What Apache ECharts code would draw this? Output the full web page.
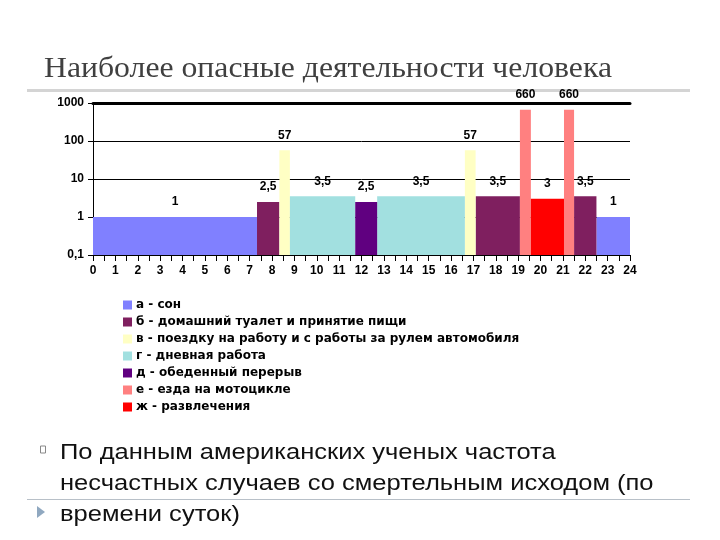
<!DOCTYPE html>
<html>
<head>
<meta charset="utf-8">
<script src="https://cdn.jsdelivr.net/npm/echarts@6/dist/echarts.min.js"></script>
<style>html,body{margin:0;padding:0;background:#fff}#c{width:720px;height:540px}</style>
</head>
<body>
<div id="c"></div>
<script>
// Activity categories (legend)
var categories = [
  'а - сон',
  'б - домашний туалет и принятие пищи',
  'в - поездку на работу и с работы за рулем автомобиля',
  'г - дневная работа',
  'д - обеденный перерыв',
  'е - езда на мотоцикле',
  'ж - развлечения'
];
var categoryColors = ['#8080FF', '#7F1F5F', '#FFFFC4', '#A2E0E0', '#600080', '#FF8080', '#FF0000'];

// Time segments (hours of day)
var segStart = [0, 7.33, 8.33, 8.8, 11.72, 12.7, 16.62, 17.1, 19.08, 19.57, 21.05, 21.5, 22.5];
var segEnd   = [7.33, 8.33, 8.8, 11.72, 12.7, 16.62, 17.1, 19.08, 19.57, 21.05, 21.5, 22.5, 24];
var segCategory = [0, 1, 2, 3, 4, 3, 2, 1, 5, 6, 5, 1, 0];
var segValue = [1, 2.5, 57, 3.5, 2.5, 3.5, 57, 3.5, 660, 3, 660, 3.5, 1];

var yTicks = [0.1, 1, 10, 100, 1000];

function fmt(v) { return String(v).replace('.', ','); }

var series = categories.map(function (name, ci) {
  var data = [];
  for (var i = 0; i < segStart.length; i++) {
    if (segCategory[i] === ci) data.push([segStart[i], segEnd[i], segValue[i]]);
  }
  return {
    type: 'custom',
    name: name,
    itemStyle: { color: categoryColors[ci] },
    encode: { x: [0, 1], y: 2 },
    data: data,
    renderItem: function (params, api) {
      var s = api.value(0), e = api.value(1), v = api.value(2);
      var p1 = api.coord([s, v]);
      var p2 = api.coord([e, yTicks[0]]);
      return {
        type: 'group',
        children: [
          { type: 'rect', shape: { x: p1[0], y: p1[1], width: p2[0] - p1[0], height: p2[1] - p1[1] },
            style: { fill: api.visual('color') } },
          { type: 'text', style: { text: fmt(v), x: (p1[0] + p2[0]) / 2, y: p1[1] - 15,
              align: 'center', verticalAlign: 'middle', fill: '#000',
              font: 'bold 12px "Liberation Sans", Arial, sans-serif' } }
        ]
      };
    }
  };
});

var chart = echarts.init(document.getElementById('c'));
chart.setOption({
  backgroundColor: '#fff',
  animation: false,
  grid: { left: 93, right: 90, top: 103, bottom: 285 },
  legend: {
    orient: 'vertical', left: 123, top: 299, padding: 0,
    itemWidth: 9, itemHeight: 9, itemGap: 5,
    icon: 'rect',
    data: categories,
    textStyle: { color: '#000', fontWeight: 'bold', fontSize: 12, lineHeight: 12,
      fontFamily: '"DejaVu Sans", sans-serif', padding: [0, 0, 0, -1] }
  },
  xAxis: [{
    type: 'value', min: 0, max: 24, interval: 1,
    axisLine: { lineStyle: { color: '#000', width: 1 } },
    axisTick: { show: true, length: 6, lineStyle: { color: '#000' } },
    minorTick: { show: true, splitNumber: 2, length: 6, lineStyle: { color: '#000' } },
    splitLine: { show: false },
    axisLabel: { color: '#000', fontWeight: 'bold', fontSize: 12, margin: 10, fontFamily: '"Liberation Sans", Arial, sans-serif' }
  }, {
    type: 'value', min: 0, max: 24, position: 'top',
    axisLine: { show: true, lineStyle: { color: '#000', width: 3 } },
    axisTick: { show: false }, axisLabel: { show: false }, splitLine: { show: false }
  }],
  yAxis: {
    type: 'log', logBase: 10, min: yTicks[0], max: yTicks[yTicks.length - 1],
    axisLine: { show: true, lineStyle: { color: '#000' } },
    axisTick: { show: true, length: 5, lineStyle: { color: '#000' } },
    splitLine: { show: true, lineStyle: { color: '#000', width: 1 } },
    axisLabel: { color: '#000', fontWeight: 'bold', fontSize: 12, margin: 9, formatter: fmt,
      fontFamily: '"Liberation Sans", Arial, sans-serif' }
  },
  series: series,
  graphic: [
    { type: 'text', x: 44, y: 55, scaleX: 1.094, style: { text: 'Наиболее опасные деятельности человека',
        x: 0, y: 0, verticalAlign: 'top',
        font: '29px "Liberation Serif", "Times New Roman", serif', fill: '#404040' } },
    { type: 'rect', shape: { x: 27, y: 89, width: 663, height: 3 }, style: { fill: '#d4d4d4' } },
    { type: 'rect', shape: { x: 27, y: 499, width: 663, height: 1 }, style: { fill: '#b8c0c8' } },
    { type: 'rect', shape: { x: 40.5, y: 446, width: 5, height: 7 }, style: { fill: 'none', stroke: '#888', lineWidth: 1 } },
    { type: 'polygon', shape: { points: [[37, 506], [45, 512], [37, 518]] }, style: { fill: '#90a8c0' } },
    { type: 'text', x: 60, y: 437, scaleX: 1.16, style: {
        text: 'По данным американских ученых частота\nнесчастных случаев со смертельным исходом (по\nвремени суток)',
        x: 0, y: 0, verticalAlign: 'top',
        font: '22px "Liberation Sans", Arial, sans-serif', fill: '#111', lineHeight: 31 } }
  ]
});
</script>
</body>
</html>
